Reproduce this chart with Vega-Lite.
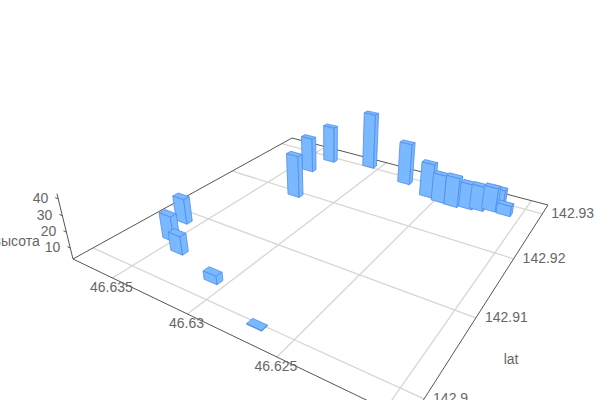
{
"$schema":"https://vega.github.io/schema/vega-lite/v6.json",
"width":600,"height":400,"padding":0,"autosize":{"type":"none"},
"background":"white",
"config":{"view":{"stroke":null},"text":{"font":"Liberation Sans","fontSize":14,"fill":"#666666"}},
"datasets":{
"bars":[
{"id":"c","lon":46.63347,"lat":142.9292,"height":29.5},
{"id":"d","lon":46.63073,"lat":142.9304,"height":43.1},
{"id":"b","lon":46.63387,"lat":142.9255,"height":27.7},
{"id":"e","lon":46.62762,"lat":142.9288,"height":32.2},
{"id":"a","lon":46.63255,"lat":142.9193,"height":31.9},
{"id":"f","lon":46.62567,"lat":142.9272,"height":26.6},
{"id":"g","lon":46.62478,"lat":142.9268,"height":22.2},
{"id":"h","lon":46.62393,"lat":142.9267,"height":23.2},
{"id":"l","lon":46.62159,"lat":142.9293,"height":15.1},
{"id":"i","lon":46.62308,"lat":142.9271,"height":20.1},
{"id":"j","lon":46.62246,"lat":142.9274,"height":19.6},
{"id":"k","lon":46.62182,"lat":142.928,"height":19.1},
{"id":"m","lon":46.62092,"lat":142.9279,"height":10.0},
{"id":"n","lon":46.63602,"lat":142.9084,"height":19.5},
{"id":"o","lon":46.63528,"lat":142.9053,"height":19.2},
{"id":"p","lon":46.63399,"lat":142.9041,"height":14.7},
{"id":"q","lon":46.63077,"lat":142.9024,"height":8.1},
{"id":"r","lon":46.62692,"lat":142.8998,"height":3.2}
],
"guides":[
{"g":"n1","kind":"grid","lon":46.635,"lat":142.9323,"height":2.9},{"g":"n1","kind":"grid","lon":46.635,"lat":142.8978,"height":2.9},
{"g":"n2","kind":"grid","lon":46.63,"lat":142.9323,"height":2.9},{"g":"n2","kind":"grid","lon":46.63,"lat":142.8978,"height":2.9},
{"g":"n3","kind":"grid","lon":46.625,"lat":142.9323,"height":2.9},{"g":"n3","kind":"grid","lon":46.625,"lat":142.8978,"height":2.9},
{"g":"n4","kind":"grid","lon":46.62,"lat":142.9323,"height":2.9},{"g":"n4","kind":"grid","lon":46.62,"lat":142.8978,"height":2.9},
{"g":"t1","kind":"grid","lon":46.638,"lat":142.93,"height":2.9},{"g":"t1","kind":"grid","lon":46.619,"lat":142.93,"height":2.9},
{"g":"t2","kind":"grid","lon":46.638,"lat":142.92,"height":2.9},{"g":"t2","kind":"grid","lon":46.619,"lat":142.92,"height":2.9},
{"g":"t3","kind":"grid","lon":46.638,"lat":142.91,"height":2.9},{"g":"t3","kind":"grid","lon":46.619,"lat":142.91,"height":2.9},
{"g":"t4","kind":"grid","lon":46.638,"lat":142.9,"height":2.9},{"g":"t4","kind":"grid","lon":46.619,"lat":142.9,"height":2.9},
{"g":"e1","kind":"axis","lon":46.638,"lat":142.9323,"height":2.9},{"g":"e1","kind":"axis","lon":46.619,"lat":142.9323,"height":2.9},
{"g":"e2","kind":"axis","lon":46.619,"lat":142.9323,"height":2.9},{"g":"e2","kind":"axis","lon":46.619,"lat":142.8978,"height":2.9},
{"g":"e3","kind":"axis","lon":46.619,"lat":142.8978,"height":2.9},{"g":"e3","kind":"axis","lon":46.638,"lat":142.8978,"height":2.9},
{"g":"e4","kind":"axis","lon":46.638,"lat":142.8978,"height":2.9},{"g":"e4","kind":"axis","lon":46.638,"lat":142.9323,"height":2.9},
{"g":"z","kind":"axis","lon":46.638,"lat":142.8978,"height":2.9},{"g":"z","kind":"axis","lon":46.638,"lat":142.8978,"height":43},
{"g":"z1","kind":"axis","lon":46.638,"lat":142.8978,"height":10},{"g":"z1","kind":"axis","lon":46.63823,"lat":142.8978,"height":10},
{"g":"z2","kind":"axis","lon":46.638,"lat":142.8978,"height":20},{"g":"z2","kind":"axis","lon":46.63823,"lat":142.8978,"height":20},
{"g":"z3","kind":"axis","lon":46.638,"lat":142.8978,"height":30},{"g":"z3","kind":"axis","lon":46.63823,"lat":142.8978,"height":30},
{"g":"z4","kind":"axis","lon":46.638,"lat":142.8978,"height":40},{"g":"z4","kind":"axis","lon":46.63823,"lat":142.8978,"height":40}
],
"labels":[
{"kind":"lon","label":"46.635","lon":46.635,"lat":142.8978,"height":2.9},
{"kind":"lon","label":"46.63","lon":46.63,"lat":142.8978,"height":2.9},
{"kind":"lon","label":"46.625","lon":46.625,"lat":142.8978,"height":2.9},
{"kind":"lat","label":"142.93","lon":46.619,"lat":142.93,"height":2.9},
{"kind":"lat","label":"142.92","lon":46.619,"lat":142.92,"height":2.9},
{"kind":"lat","label":"142.91","lon":46.619,"lat":142.91,"height":2.9},
{"kind":"lat","label":"142.9","lon":46.619,"lat":142.9,"height":2.9},
{"kind":"z","label":"10","lon":46.638,"lat":142.8978,"height":10},
{"kind":"z","label":"20","lon":46.638,"lat":142.8978,"height":20},
{"kind":"z","label":"30","lon":46.638,"lat":142.8978,"height":30},
{"kind":"z","label":"40","lon":46.638,"lat":142.8978,"height":40},
{"kind":"ztitle","label":"высота","lon":46.638,"lat":142.8978,"height":14},
{"kind":"lattitle","label":"lat","lon":46.619,"lat":142.9044,"height":2.9}
]
},
"encoding":{
"x":{"field":"px","type":"quantitative","scale":{"domain":[0,600],"nice":false,"zero":false},"axis":null},
"y":{"field":"py","type":"quantitative","scale":{"domain":[400,0],"nice":false,"zero":false},"axis":null}
},
"layer":[
{"data":{"name":"guides"},
"transform":[{"filter":"datum.kind=='grid'"},
{"calculate":"(46.638-datum.lon)/0.019","as":"s"},{"calculate":"(142.9323-datum.lat)/0.0345","as":"t"},{"calculate":"0.000995*(datum.height-2.9)","as":"r"},{"calculate":"1-0.19857*datum.s-0.32166*datum.t-datum.r","as":"w"},{"calculate":"(147.18*datum.s-242.48*datum.t+292-330*datum.r)/datum.w","as":"px"},{"calculate":"(26.29*datum.s+37.69*datum.t+138-1304*datum.r)/datum.w","as":"py"}],
"mark":{"type":"line","stroke":"#d6d6d6","strokeWidth":1.3,"clip":false},
"encoding":{"detail":{"field":"g"}}},
{"data":{"name":"guides"},
"transform":[{"filter":"datum.kind=='axis'"},
{"calculate":"(46.638-datum.lon)/0.019","as":"s"},{"calculate":"(142.9323-datum.lat)/0.0345","as":"t"},{"calculate":"0.000995*(datum.height-2.9)","as":"r"},{"calculate":"1-0.19857*datum.s-0.32166*datum.t-datum.r","as":"w"},{"calculate":"(147.18*datum.s-242.48*datum.t+292-330*datum.r)/datum.w","as":"px"},{"calculate":"(26.29*datum.s+37.69*datum.t+138-1304*datum.r)/datum.w","as":"py"}],
"mark":{"type":"line","stroke":"#555555","strokeWidth":1,"clip":false},
"encoding":{"detail":{"field":"g"}}},
{"data":{"name":"bars"},
"transform":[
{"calculate":"[0,1,2,3,4,5,6,7,8,9,10,11]","as":"v"},
{"flatten":["v"]},
{"calculate":"datum.id+'-'+floor(datum.v/4)","as":"key"},
{"calculate":"(46.638-datum.lon)/0.019+0.022*[-1,1,1,-1,-1,1,1,-1,1,1,1,1][datum.v]","as":"s"},
{"calculate":"(142.9323-datum.lat)/0.0345+0.011*[-1,-1,1,1,1,1,1,1,-1,1,1,-1][datum.v]","as":"t"},
{"calculate":"0.000995*([1,1,1,1,1,1,0,0,1,1,0,0][datum.v]*(datum.height-2.9))","as":"r"},
{"calculate":"1-0.19857*datum.s-0.32166*datum.t-datum.r","as":"w"},
{"calculate":"(147.18*datum.s-242.48*datum.t+292-330*datum.r)/datum.w","as":"px"},
{"calculate":"(26.29*datum.s+37.69*datum.t+138-1304*datum.r)/datum.w","as":"py"}
],
"mark":{"type":"line","interpolate":"linear-closed","fill":"#7ab8ff","stroke":"#4f8eea","strokeWidth":0.8,"strokeJoin":"round","clip":false},
"encoding":{"detail":{"field":"key"},"order":{"field":"v"}}},
{"data":{"name":"labels"},
"transform":[{"filter":"datum.kind=='lon'"},
{"calculate":"(46.638-datum.lon)/0.019","as":"s"},{"calculate":"(142.9323-datum.lat)/0.0345","as":"t"},{"calculate":"0.000995*(datum.height-2.9)","as":"r"},{"calculate":"1-0.19857*datum.s-0.32166*datum.t-datum.r","as":"w"},{"calculate":"(147.18*datum.s-242.48*datum.t+292-330*datum.r)/datum.w","as":"px"},{"calculate":"(26.29*datum.s+37.69*datum.t+138-1304*datum.r)/datum.w","as":"py"}],
"mark":{"type":"text","align":"center","baseline":"middle","dy":10,"dx":-1},
"encoding":{"text":{"field":"label"}}},
{"data":{"name":"labels"},
"transform":[{"filter":"datum.kind=='lat'"},
{"calculate":"(46.638-datum.lon)/0.019","as":"s"},{"calculate":"(142.9323-datum.lat)/0.0345","as":"t"},{"calculate":"0.000995*(datum.height-2.9)","as":"r"},{"calculate":"1-0.19857*datum.s-0.32166*datum.t-datum.r","as":"w"},{"calculate":"(147.18*datum.s-242.48*datum.t+292-330*datum.r)/datum.w","as":"px"},{"calculate":"(26.29*datum.s+37.69*datum.t+138-1304*datum.r)/datum.w","as":"py"}],
"mark":{"type":"text","align":"left","baseline":"middle","dx":9},
"encoding":{"text":{"field":"label"}}},
{"data":{"name":"labels"},
"transform":[{"filter":"datum.kind=='z'"},
{"calculate":"(46.638-datum.lon)/0.019","as":"s"},{"calculate":"(142.9323-datum.lat)/0.0345","as":"t"},{"calculate":"0.000995*(datum.height-2.9)","as":"r"},{"calculate":"1-0.19857*datum.s-0.32166*datum.t-datum.r","as":"w"},{"calculate":"(147.18*datum.s-242.48*datum.t+292-330*datum.r)/datum.w","as":"px"},{"calculate":"(26.29*datum.s+37.69*datum.t+138-1304*datum.r)/datum.w","as":"py"}],
"mark":{"type":"text","align":"right","baseline":"middle","dx":-10},
"encoding":{"text":{"field":"label"}}},
{"data":{"name":"labels"},
"transform":[{"filter":"datum.kind=='ztitle'"},
{"calculate":"(46.638-datum.lon)/0.019","as":"s"},{"calculate":"(142.9323-datum.lat)/0.0345","as":"t"},{"calculate":"0.000995*(datum.height-2.9)","as":"r"},{"calculate":"1-0.19857*datum.s-0.32166*datum.t-datum.r","as":"w"},{"calculate":"(147.18*datum.s-242.48*datum.t+292-330*datum.r)/datum.w","as":"px"},{"calculate":"(26.29*datum.s+37.69*datum.t+138-1304*datum.r)/datum.w","as":"py"}],
"mark":{"type":"text","align":"right","baseline":"middle","dx":-29},
"encoding":{"text":{"field":"label"}}},
{"data":{"name":"labels"},
"transform":[{"filter":"datum.kind=='lattitle'"},
{"calculate":"(46.638-datum.lon)/0.019","as":"s"},{"calculate":"(142.9323-datum.lat)/0.0345","as":"t"},{"calculate":"0.000995*(datum.height-2.9)","as":"r"},{"calculate":"1-0.19857*datum.s-0.32166*datum.t-datum.r","as":"w"},{"calculate":"(147.18*datum.s-242.48*datum.t+292-330*datum.r)/datum.w","as":"px"},{"calculate":"(26.29*datum.s+37.69*datum.t+138-1304*datum.r)/datum.w","as":"py"}],
"mark":{"type":"text","align":"center","baseline":"middle","dx":62},
"encoding":{"text":{"field":"label"}}}
]
}
